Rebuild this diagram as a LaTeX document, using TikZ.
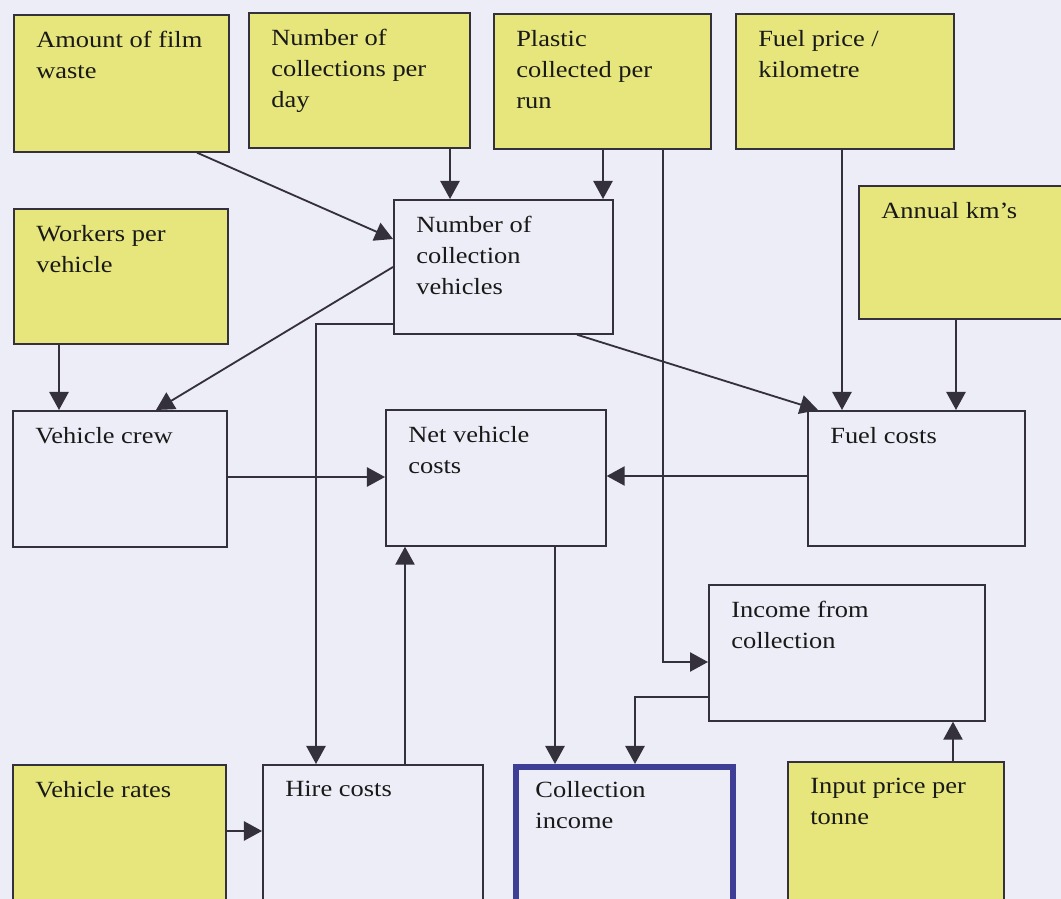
\documentclass[tikz,border=0pt]{standalone}
\usepackage{fontspec}
\setmainfont{Liberation Serif}[FakeStretch=1.14]
\usetikzlibrary{arrows.meta,positioning,calc}
\definecolor{bgc}{RGB}{237,237,248}
\definecolor{inc}{RGB}{230,230,124}
\definecolor{linec}{RGB}{52,48,60}
\definecolor{outc}{RGB}{62,62,150}

\begin{document}
\begin{tikzpicture}[x=0.025cm, y=-0.025cm, >={Triangle[length=0.45cm, width=0.48cm]},
  var/.style 2 args={draw=linec, line width=1.2pt, anchor=north west, inner sep=0, fill=bgc, minimum width=#1*0.025cm, minimum height=#2*0.025cm},
  input/.style={fill=inc},
  txt/.style={anchor=north west, align=left, inner sep=0, font=\fontsize{16.5}{22}\selectfont, text=black!90, xshift=0.575cm, yshift=-0.42cm},
  link/.style={->, draw=linec, line width=1.3pt}]
\fill[bgc] (0,0) rectangle (1061,899);
\clip (0,0) rectangle (1061,899);
% inputs
\node[var={215}{137}, input, label={[txt]north west:Amount of film\\waste}] (film) at (13,14) {};
\node[var={221}{135}, input, label={[txt]north west:Number of\\collections per\\day}] (colday) at (248,12) {};
\node[var={217}{135}, input, label={[txt]north west:Plastic\\collected per\\run}] (plastic) at (493,13) {};
\node[var={218}{135}, input, label={[txt]north west:Fuel price /\\kilometre}] (fuelp) at (735,13) {};
\node[var={220}{133}, input, label={[txt]north west:Annual km's}] (annual) at (858,185) {};
\node[var={214}{135}, input, label={[txt]north west:Workers per\\vehicle}] (workers) at (13,208) {};
\node[var={213}{145}, input, label={[txt]north west:Vehicle rates}] (vrates) at (12,764) {};
\node[var={216}{145}, input, label={[txt]north west:Input price per\\tonne}] (inprice) at (787,761) {};
% calculated
\node[var={219}{134}, label={[txt]north west:Number of\\collection\\vehicles}] (numveh) at (393,199) {};
\node[var={214}{136}, label={[txt]north west:Vehicle crew}] (crew) at (12,410) {};
\node[var={220}{136}, label={[txt]north west:Net vehicle\\costs}] (netveh) at (385,409) {};
\node[var={217}{135}, label={[txt]north west:Fuel costs}] (fuelc) at (807,410) {};
\node[var={276}{136}, label={[txt]north west:Income from\\collection}] (income) at (708,584) {};
\node[var={220}{145}, label={[txt]north west:Hire costs}] (hire) at (262,764) {};
\node[var={217}{145}, draw=outc, line width=0.15cm, label={[txt, xshift=-0.02cm]north west:Collection\\income}] (collinc) at (513,764) {};
% links
\draw[link] (film.south -| 197,0) -- (numveh.west |- 0,239);
\foreach \s/\x in {colday/450, plastic/603} \draw[link] (\s.south -| \x,0) -- (numveh.north -| \x,0);
\foreach \s/\x in {fuelp/842, annual/956} \draw[link] (\s.south -| \x,0) -- (fuelc.north -| \x,0);
\draw[link] (plastic.south -| 663,0) |- (income.west |- 0,662);
\draw[link] (numveh.south -| 577,0) -- (fuelc.north -| 818,0);
\draw[link] (numveh.west |- 0,267) -- (crew.north -| 156,0);
\draw[link] (workers.south -| 59,0) -- (crew.north -| 59,0);
\draw[link] (numveh.west |- 0,324) -| (hire.north -| 316,0);
\draw[link] (crew.east |- 0,477) -- (netveh.west |- 0,477);
\draw[link] (fuelc.west |- 0,476) -- (netveh.east |- 0,476);
\draw[link] (hire.north -| 405,0) -- (netveh.south -| 405,0);
\draw[link] (netveh.south -| 555,0) -- (collinc.north -| 555,0);
\draw[link] (income.west |- 0,697) -| (collinc.north -| 635,0);
\draw[link] (inprice.north -| 953,0) -- (income.south -| 953,0);
\draw[link] (vrates.east |- 0,831) -- (hire.west |- 0,831);
\end{tikzpicture}
\end{document}
